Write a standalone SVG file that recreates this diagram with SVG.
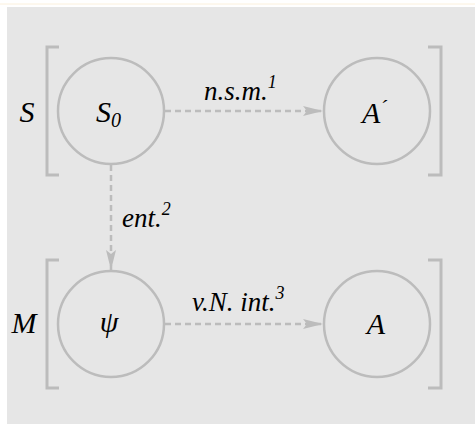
<svg xmlns="http://www.w3.org/2000/svg" width="475" height="425" viewBox="0 0 475 425">
<defs>
<style>
.bg{fill:#e6e6e6}
.node{fill:none;stroke:#bcbcbc;stroke-width:2.5}
.br{fill:none;stroke:#bcbcbc;stroke-width:3}
.edge{fill:none;stroke:#bcbcbc;stroke-width:2.5;stroke-dasharray:6 4}
.t{font-family:'Liberation Serif','Times New Roman',Times,serif;font-style:italic;fill:#000000}
.main{font-size:30px}
.lab{font-size:27px}
.sup{font-size:18px}
</style>
<marker id="ah" markerUnits="userSpaceOnUse" markerWidth="22" markerHeight="12" viewBox="0 -6 22 12" refX="20" refY="0" orient="auto">
<path d="M0,-5 L20,0 L0,5 L4,0 z" fill="#bcbcbc"/>
</marker>
</defs>
<rect x="0" y="0" width="475" height="425" fill="#ffffff"/>
<line x1="0" y1="4" x2="475" y2="4" stroke="#fbf0dc" stroke-width="1"/>
<rect class="bg" x="7" y="7" width="468" height="417"/>
<g id="brackets">
<path class="br" d="M59,47 H47 V175 H59"/>
<path class="br" d="M428,47 H441 V175 H428"/>
<path class="br" d="M59,260 H47 V388 H59"/>
<path class="br" d="M428,260 H441 V388 H428"/>
</g>
<g id="row-labels">
<text class="t main" x="27" y="122" text-anchor="middle">S</text>
<text class="t main" x="24" y="333" text-anchor="middle">M</text>
</g>
<g id="connectors">
<line class="edge" x1="165" y1="111" x2="323" y2="111" marker-end="url(#ah)"/>
<line class="edge" x1="165" y1="324" x2="323" y2="324" marker-end="url(#ah)"/>
<line class="edge" x1="111" y1="165" x2="111" y2="270" marker-end="url(#ah)"/>
<text class="t lab" x="204" y="100">n.s.m.<tspan class="sup" dy="-12">1</tspan></text>
<text class="t lab" x="122" y="227">ent.<tspan class="sup" dy="-12">2</tspan></text>
<text class="t lab" x="192" y="311">v.N. int.<tspan class="sup" dy="-12">3</tspan></text>
</g>
<g id="node-S0">
<circle class="node" cx="111" cy="111" r="53"/>
<text class="t main" x="96" y="122">S<tspan font-size="20" dy="5">0</tspan></text>
</g>
<g id="node-A-prime">
<circle class="node" cx="377" cy="111" r="53"/>
<text class="t main" x="362" y="123">A<tspan font-size="20" dy="-8">´</tspan></text>
</g>
<g id="node-psi">
<circle class="node" cx="111" cy="324" r="53"/>
<text class="t main" x="109" y="332" text-anchor="middle">ψ</text>
</g>
<g id="node-A">
<circle class="node" cx="377" cy="324" r="53"/>
<text class="t main" x="376" y="334" text-anchor="middle">A</text>
</g>
</svg>
